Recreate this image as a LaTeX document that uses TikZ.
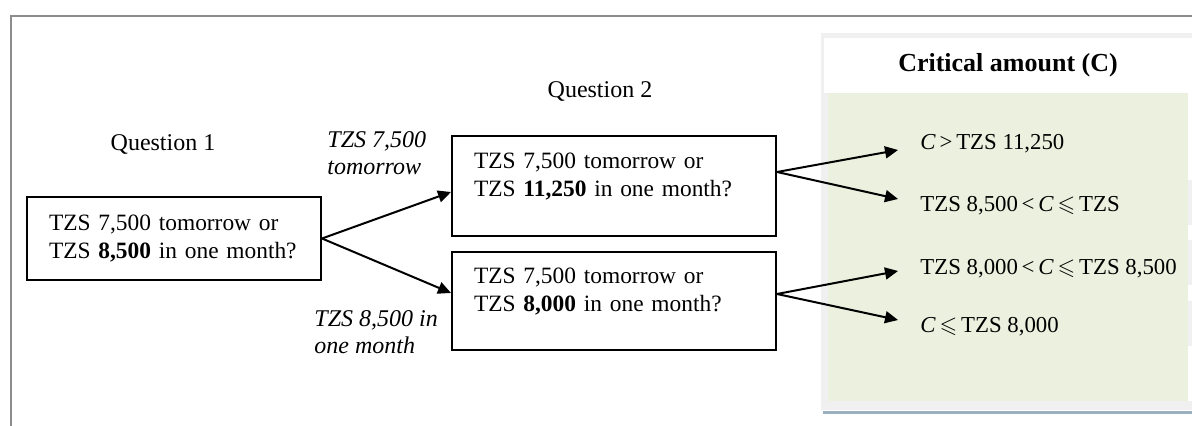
\documentclass[tikz,border=0pt]{standalone}
\usepackage{fontspec}
\usepackage{amssymb}
\setmainfont{Liberation Serif}
\usetikzlibrary{arrows.meta}

\definecolor{framegray}{HTML}{8C8C8C}
\definecolor{panelgray}{HTML}{F0F0F0}
\definecolor{panelgreen}{HTML}{EBF1DE}
\definecolor{rulegray}{HTML}{9AB0BE}

\tikzset{
  qbox/.style={draw,line width=1pt,align=left,inner xsep=11pt,inner ysep=0pt,
    font=\fontsize{11.7}{14}\selectfont},
  branch/.style={font=\itshape\fontsize{12}{13.5}\selectfont,align=left,anchor=west,inner sep=0pt},
  crit/.style={anchor=base west,inner sep=0pt,font=\fontsize{11.4}{14}\selectfont},
  choice/.style={->,line width=1pt},
}

\begin{document}
\begin{tikzpicture}[x=0.5pt,y=-0.5pt,>={Triangle[length=6.5pt,width=6pt]},font=\fontsize{12}{14}\selectfont]
\useasboundingbox (0,0) rectangle (1192,426);

  % table on the right
  \fill[panelgray] (821,33) rectangle (1192,410);
  \fill[white] (824,38) rectangle (1192,93);
  \fill[panelgreen] (828,93) rectangle (1188,401);
  \foreach \ya/\yb in {93/180,225/240,285/301,346/401}
    \fill[white] (1188,\ya) rectangle (1192,\yb);
  \draw[rulegray,line width=1.5pt] (823,412.5) -- (1192,412.5);
  \draw[framegray,line width=1pt] (11,426) -- (11,16) -- (1192,16);

  \node (ques1) at (163,145) {Question 1};
  \node (ques2) at (600,92)  {Question 2};
  \node[font=\bfseries\fontsize{13}{15}\selectfont] (head) at (1008,65) {Critical amount (C)};

  \node[qbox,text width=125pt,minimum height=41.5pt] (q1) at (174,238.5)
    {TZS 7,500 tomorrow or\\TZS \textbf{8,500} in one month?};
  \node[qbox,text width=140pt,minimum height=50pt] (q2a) at (614,186)
    {TZS 7,500 tomorrow or\\TZS \textbf{11,250} in one month?\\[-3pt]\mbox{}};
  \node[qbox,text width=140pt,minimum height=49pt] (q2b) at (614,301)
    {TZS 7,500 tomorrow or\\TZS \textbf{8,000} in one month?\\[-3pt]\mbox{}};

  \node[branch] (lab1) at (327,153.5) {TZS 7,500\\tomorrow};
  \node[branch] (lab2) at (314,332.5) {TZS 8,500 in\\one month};

  \node[crit] (c1) at (920,150) {\textit{C}\,>\,TZS 11,250};
  \node[crit] (c2) at (920,212) {TZS 8,500\,<\,\textit{C}\,$\leqslant$\,TZS};
  \node[crit] (c3) at (920,275) {TZS 8,000\,<\,\textit{C}\,$\leqslant$\,TZS 8,500};
  \node[crit] (c4) at (920,333) {\textit{C}\,$\leqslant$\,TZS 8,000};

  \path[choice] (q1.east) edge ([yshift=-3pt]q2a.west)
                          edge ([yshift=4pt]q2b.west)
    ([yshift=7pt]q2a.east) edge ([xshift=-11pt]c1.base west)
                           edge ([xshift=-11pt,yshift=6.5pt]c2.base west)
    ([yshift=3.5pt]q2b.east) edge ([xshift=-11pt,yshift=2pt]c3.base west)
                             edge ([xshift=-11pt,yshift=6.5pt]c4.base west);
\end{tikzpicture}
\end{document}
